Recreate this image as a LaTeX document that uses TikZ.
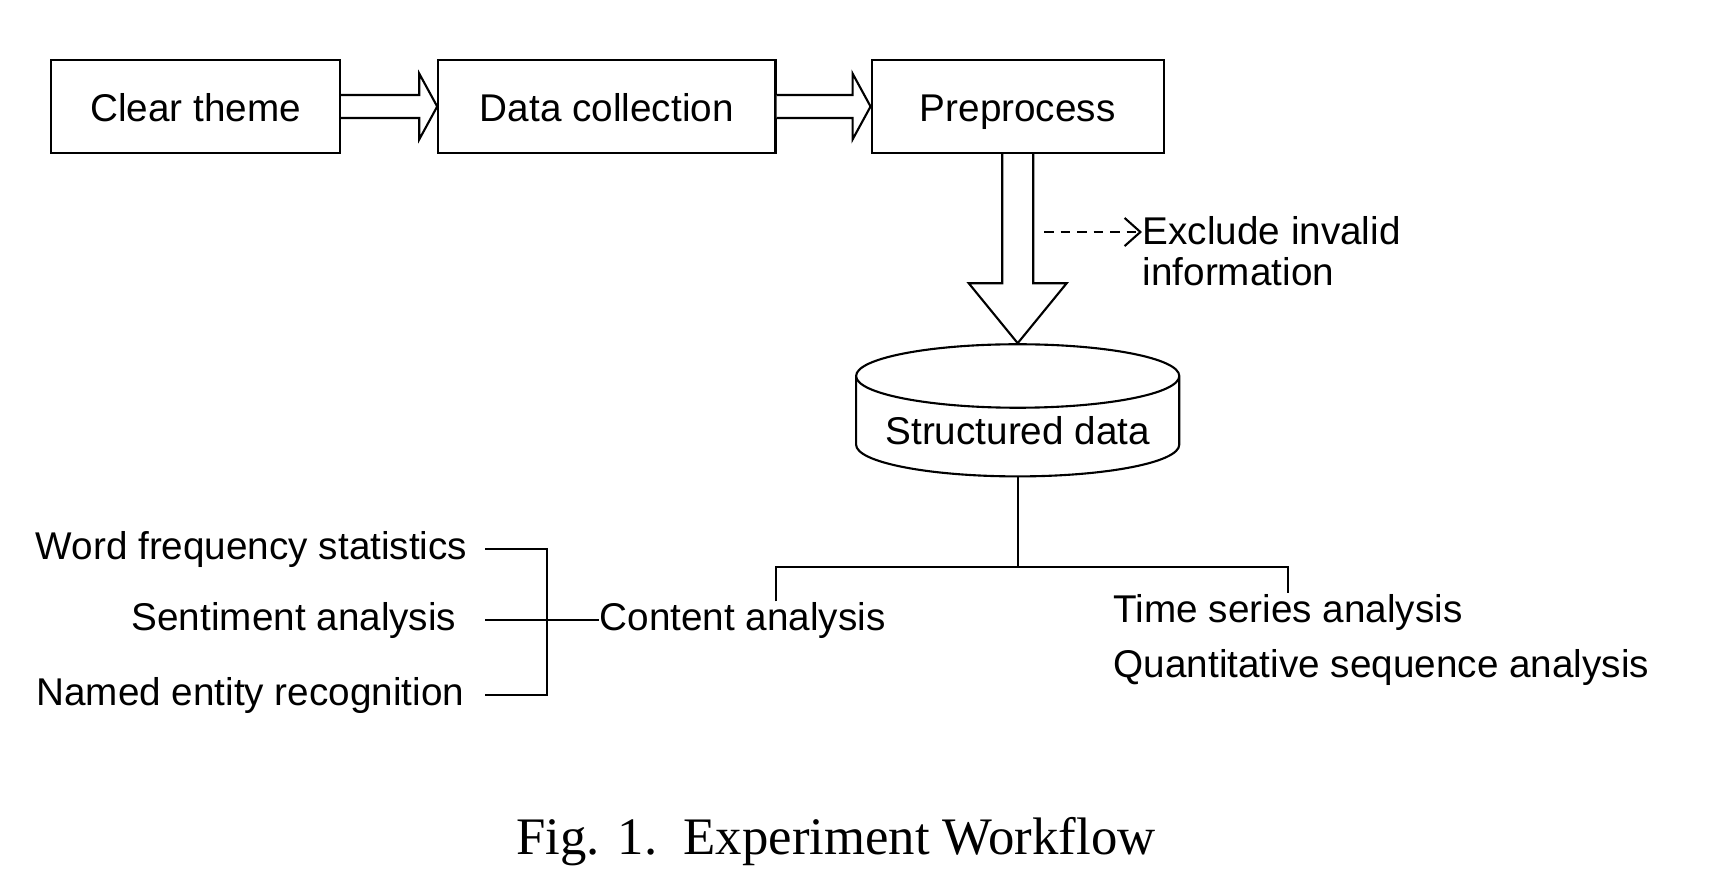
\documentclass[tikz,border=0pt]{standalone}
\usepackage{fontspec}
\setmainfont{Liberation Sans}
\newfontfamily\capfont{Liberation Serif}
\usepackage{tikz}
\usetikzlibrary{shapes.geometric, arrows.meta, positioning, calc}

\begin{document}
\begin{tikzpicture}[
        x=0.01cm, y=0.01cm,
        font=\fontsize{11}{11.6}\selectfont,
        stage/.style={rectangle, draw=black, semithick, minimum height=0.93cm, inner sep=0pt, text height=2ex, text depth=0.4ex},
        store/.style={cylinder, shape border rotate=90, draw=black, semithick, aspect=0.24, minimum width=3.23cm, minimum height=1.22cm, inner sep=0pt, text height=10.2pt, text depth=-1.6pt},
        fat/.style={draw=black, semithick, fill=white, line join=miter},
        tag/.style={inner sep=0pt},
        link/.style={semithick, color=black},
        hint/.style={semithick, dash pattern=on 2.8pt off 1.9pt, -{Straight Barb[length=4.5pt, width=8pt]}}
    ]
    \useasboundingbox (0,0) rectangle (1714,-884);

    % Nodes
    \node[stage, minimum width=2.89cm] (theme) at (195.5,-106.5) {Clear theme};
    \node[stage, minimum width=3.37cm] (collect) [right=0.96cm of theme] {Data collection};
    \node[stage, minimum width=2.92cm] (prep) [right=0.94cm of collect] {Preprocess};
    \node[store] (data) [below=1.89cm of prep] {Structured data};
    \node[tag, anchor=west, align=left] (excl) at (1142,-251) {Exclude invalid\\information};

    \node[tag, anchor=west] (content) at (599,-620) {Content analysis};
    \node[tag, anchor=west] (time) at (1113,-612) {Time series analysis};
    \node[tag, anchor=west] (quant) at (1113,-667) {Quantitative sequence analysis};

    \node[tag, anchor=east] (word) at (468,-549) {Word frequency statistics};
    \node[tag, anchor=east] (senti) at (457,-620) {Sentiment analysis};
    \node[tag, anchor=east] (named) at (465,-695) {Named entity recognition};

    \node[tag, font=\capfont\fontsize{15}{18}\selectfont] (caption) at (836,-842) {Fig. 1.\enspace Experiment Workflow};

    % Connections
    \foreach \a/\b in {theme/collect, collect/prep}
        \draw[fat] ($(\a.east)+(0,11.5)$) -- ($(\b.west)+(-18,11.5)$) -- ($(\b.west)+(-18,33)$)
            -- (\b.west) -- ($(\b.west)+(-18,-33)$) -- ($(\b.west)+(-18,-11.5)$) -- ($(\a.east)+(0,-11.5)$);
    \draw[fat] ($(prep.south)+(-15.5,0)$) -- ($(data.north)+(-15.5,60)$) -- ($(data.north)+(-49,60)$)
        -- (data.north) -- ($(data.north)+(49,60)$) -- ($(data.north)+(15.5,60)$) -- ($(prep.south)+(15.5,0)$);

    \coordinate (dash) at (1044,-232);
    \draw[hint] (dash) -- (dash -| excl.west);

    \coordinate (fork) at (data.south |- 0,-567);
    \draw[link] (data.south) -- (fork);
    \draw[link] ($(content.north)+(33,0)$) |- (fork) -| (time.north);

    \coordinate (join) at (547,-620);
    \draw[link] ($(word.east)+(17,0)$) -| (join) |- ($(named.east)+(20,0)$);
    \draw[link] ($(senti.east)+(28,0)$) -- (join) -- (content.west);

\end{tikzpicture}
\end{document}
